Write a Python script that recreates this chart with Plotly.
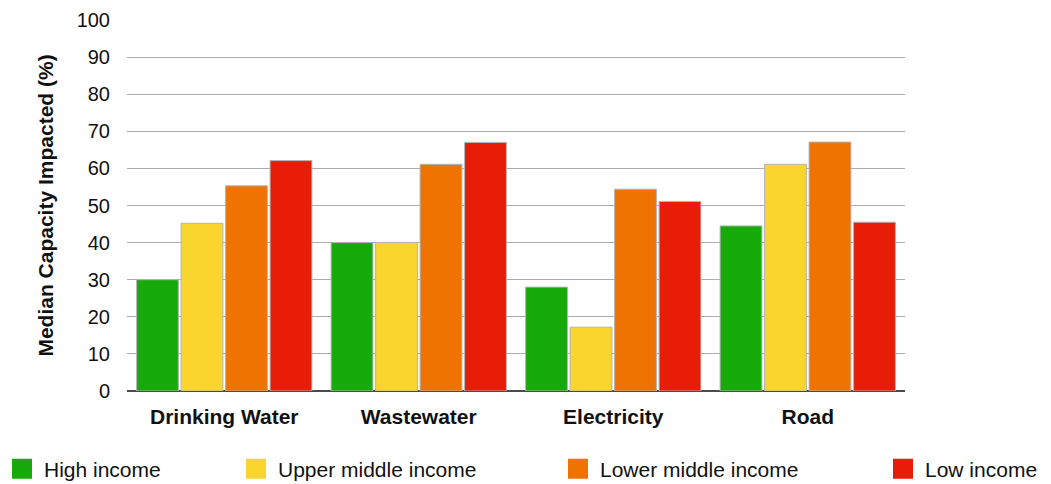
import plotly.graph_objects as go

categories = ["Drinking Water", "Wastewater", "Electricity", "Road"]
series_names = ["High income", "Upper middle income", "Lower middle income", "Low income"]
high_income = [30.0, 40.0, 28.0, 44.5]
upper_middle_income = [45.2, 40.0, 17.2, 61.1]
lower_middle_income = [55.3, 61.1, 54.4, 67.1]
low_income = [62.1, 67.0, 51.1, 45.5]
y_ticks = [0, 10, 20, 30, 40, 50, 60, 70, 80, 90, 100]

colors = ["#16AB0B", "#F9D52E", "#EF7300", "#E81D08"]
series_values = [high_income, upper_middle_income, lower_middle_income, low_income]

FONT = "Liberation Sans, Arial, Helvetica, sans-serif"
W, H = 1051, 484

fig = go.Figure()

for name, vals, col in zip(series_names, series_values, colors):
    fig.add_trace(go.Bar(
        x=categories, y=vals, name=name,
        marker=dict(color=col, line=dict(color="#b4b4b4", width=1)),
        showlegend=False,
    ))

# separate one-item legends spread across the bottom
legend_ids = ["legend", "legend2", "legend3", "legend4"]
legend_x = [12, 246, 568, 893]
for name, col, lid in zip(series_names, colors, legend_ids):
    fig.add_trace(go.Scatter(
        x=[None], y=[None], mode="markers", name=name, legend=lid,
        marker=dict(symbol="square", size=16, color=col,
                    line=dict(color=col, width=4)),
    ))

legend_common = dict(
    orientation="h", xref="container", yref="container",
    xanchor="left", yanchor="middle", itemwidth=34,
    font=dict(family=FONT, size=21, color="#111"),
    bgcolor="rgba(0,0,0,0)", borderwidth=0,
)
layout_legends = {}
for lid, lx in zip(legend_ids, legend_x):
    layout_legends[lid] = dict(legend_common, x=(lx - 12) / W, y=(H - 469) / H)

fig.update_layout(
    width=W, height=H,
    margin=dict(l=127, r=146, t=20, b=93, autoexpand=False),
    plot_bgcolor="white", paper_bgcolor="white",
    barmode="group", bargap=0.085, bargroupgap=0.06,
    font=dict(family=FONT, color="#111"),
    showlegend=True,
    **layout_legends,
)

fig.update_xaxes(
    type="category",
    showgrid=False, showline=False, zeroline=False,
    tickfont=dict(family=FONT, size=21, color="#111", weight="bold"),
    ticklabelstandoff=11,
)
fig.update_yaxes(
    range=[0, 100], tickvals=y_ticks,
    showgrid=True, gridcolor="#ababab", gridwidth=1,
    zeroline=True, zerolinecolor="#4a4a4a", zerolinewidth=1.5,
    showline=False,
    tickfont=dict(family=FONT, size=20, color="#111"),
    ticklabelstandoff=16,
    title=dict(text="Median Capacity Impacted (%)",
               font=dict(family=FONT, size=21, color="#111", weight="bold"),
               standoff=17),
)

fig.write_html("out.html")
